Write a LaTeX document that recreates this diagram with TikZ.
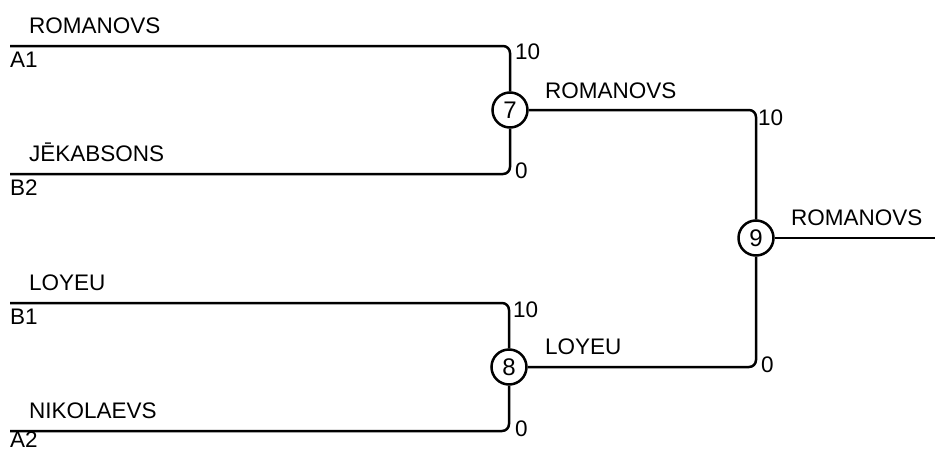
\documentclass[tikz,border=0pt]{standalone}
\usepackage{fontspec}
\setmainfont{Liberation Sans}
\begin{document}
\begin{tikzpicture}[x=1pt,y=-1pt,
  wire/.style={line width=2.5pt,rounded corners=7pt},
  game/.style={circle,draw,line width=2.5pt,minimum size=35pt,inner sep=0pt,font=\fontsize{24}{24}\selectfont},
  lbl/.style={anchor=base west,inner sep=0pt,font=\fontsize{22.5}{22.5}\selectfont}]
\useasboundingbox (0,0) rectangle (935,450);
% games
\node[game] (g7) at (510,110) {7};
\node[game] (g8) at (509,367) {8};
\node[game] (g9) at (756,238) {9};
% entry points
\coordinate (a1) at (10,46);
\coordinate (b2) at (10,174);
\coordinate (b1) at (10,303);
\coordinate (a2) at (10,431);
\coordinate (out) at (935,238);
% connectors
\draw[wire] (a1) -| (g7.north);
\draw[wire] (b2) -| (g7.south);
\draw[wire] (b1) -| (g8.north);
\draw[wire] (a2) -| (g8.south);
\draw[wire] (g7.east) -| (g9.north);
\draw[wire] (g8.east) -| (g9.south);
\draw[wire] (g9.east) -- (out);
% team names
\node[lbl] (n1) at (29,33) {ROMANOVS};
\node[lbl] (n2) at (29,161) {JĒKABSONS};
\node[lbl] (n3) at (29,290) {LOYEU};
\node[lbl] (n4) at (29,418) {NIKOLAEVS};
\node[lbl] (w7) at (545,98) {ROMANOVS};
\node[lbl] (w8) at (545,354) {LOYEU};
\node[lbl] (w9) at (791,225) {ROMANOVS};
% seeds
\node[lbl] (s1) at (10,67) {A1};
\node[lbl] (s2) at (10,195) {B2};
\node[lbl] (s3) at (10,324) {B1};
\node[lbl] (s4) at (10,447) {A2};
% scores
\node[lbl] (c1) at (515,59) {10};
\node[lbl] (c2) at (515,178) {0};
\node[lbl] (c3) at (513,317) {10};
\node[lbl] (c4) at (515,436) {0};
\node[lbl] (c5) at (758,125) {10};
\node[lbl] (c6) at (761,372) {0};
\end{tikzpicture}
\end{document}
